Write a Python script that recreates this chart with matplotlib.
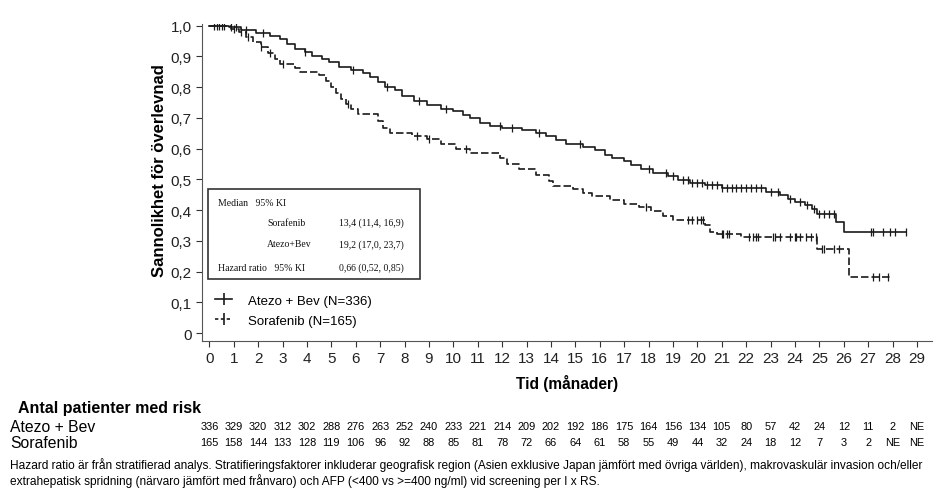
import numpy as np
import matplotlib.pyplot as plt
from matplotlib.lines import Line2D
from matplotlib.patches import Rectangle
import matplotlib.transforms as mtransforms

plt.rcParams['font.family'] = ['Liberation Sans', 'DejaVu Sans']

# Kaplan-Meier steps (time in months, survival after the drop)
atezo_t = [0, 0.8, 1.3, 1.9, 2.5, 2.9, 3.2, 3.5, 3.9, 4.2, 4.6, 4.9, 5.3, 5.8, 6.3,
           6.6, 6.9, 7.2, 7.6, 7.9, 8.4, 8.9, 9.5, 10.0, 10.4, 10.7, 11.1, 11.5, 12.0,
           12.8, 13.4, 13.8, 14.2, 14.6, 15.3, 15.8, 16.2, 16.5, 17.0, 17.3, 17.7,
           18.2, 18.8, 19.2, 19.7, 20.3, 21.0, 22.8, 23.4, 23.7, 24.0, 24.4, 24.7,
           24.9, 25.7, 26.0, 28.55]
atezo_s = [1.0, 0.995, 0.985, 0.975, 0.965, 0.955, 0.94, 0.925, 0.915, 0.90, 0.89,
           0.88, 0.866, 0.855, 0.845, 0.832, 0.815, 0.80, 0.79, 0.772, 0.755, 0.742,
           0.73, 0.722, 0.71, 0.698, 0.683, 0.675, 0.668, 0.661, 0.652, 0.64, 0.628,
           0.614, 0.606, 0.595, 0.58, 0.568, 0.558, 0.545, 0.532, 0.522, 0.511,
           0.498, 0.488, 0.48, 0.472, 0.46, 0.448, 0.436, 0.427, 0.417, 0.404,
           0.388, 0.36, 0.329, 0.329]
atezo_cens = [0.2, 0.4, 0.6, 0.9, 1.1, 1.5, 2.2, 3.9, 5.9, 7.3, 8.6, 9.7, 11.9, 12.4,
              13.5, 15.2, 18.0, 18.7, 19.0, 19.4, 19.6, 19.8, 20.0, 20.2, 20.4, 20.6,
              20.8, 21.0, 21.2, 21.4, 21.6, 21.8, 22.0, 22.2, 22.4, 22.6, 23.0, 23.3,
              23.8, 24.2, 24.5, 24.8, 25.0, 25.2, 25.4, 25.6, 27.1, 27.2, 27.6, 27.9,
              28.1, 28.55]

sora_t = [0, 0.9, 1.2, 1.5, 1.8, 2.1, 2.4, 2.7, 2.9, 3.5, 3.7, 4.5, 4.8, 5.0, 5.2,
          5.4, 5.6, 5.8, 6.1, 6.9, 7.1, 7.4, 8.3, 8.9, 9.5, 10.1, 10.7, 11.9, 12.2,
          12.7, 13.4, 13.9, 14.1, 14.9, 15.3, 15.7, 16.4, 17.0, 17.6, 18.1, 18.6,
          19.0, 20.3, 20.5, 20.8, 21.8, 24.9, 26.2, 27.9]
sora_s = [1.0, 0.99, 0.978, 0.963, 0.948, 0.93, 0.912, 0.89, 0.876, 0.862, 0.848,
          0.838, 0.82, 0.80, 0.78, 0.76, 0.745, 0.728, 0.712, 0.69, 0.668, 0.65,
          0.642, 0.63, 0.616, 0.60, 0.585, 0.568, 0.55, 0.532, 0.515, 0.495, 0.478,
          0.468, 0.456, 0.446, 0.434, 0.42, 0.41, 0.397, 0.38, 0.368, 0.35, 0.33,
          0.322, 0.313, 0.274, 0.182, 0.182]
sora_cens = [0.3, 0.5, 1.0, 1.3, 1.6, 2.1, 2.5, 3.0, 5.7, 8.5, 9.0, 10.5, 17.9, 19.6,
             19.8, 20.0, 20.15, 20.25, 21.0, 21.05, 21.2, 21.3, 22.1, 22.3, 22.4,
             22.5, 23.1, 23.2, 23.4, 23.8, 24.0, 24.05, 24.2, 24.45, 24.65, 24.85,
             25.1, 25.2, 25.6, 25.8, 27.2, 27.45, 27.8]

months = list(range(0, 30))
atezo_risk = ['336', '329', '320', '312', '302', '288', '276', '263', '252', '240',
              '233', '221', '214', '209', '202', '192', '186', '175', '164', '156',
              '134', '105', '80', '57', '42', '24', '12', '11', '2', 'NE']
sora_risk = ['165', '158', '144', '133', '128', '119', '106', '96', '92', '88', '85',
             '81', '78', '72', '66', '64', '61', '58', '55', '49', '44', '32', '24',
             '18', '12', '7', '3', '2', 'NE', 'NE']

col = '#1a1a1a'
dash = (0, (4.5, 1.8))

fig = plt.figure(figsize=(9.45, 5.02), dpi=100)
ax = fig.add_axes([0.2138, 0.3187, 0.772, 0.632])


def surv_at(t, s, c):
    idx = np.searchsorted(t, c, side='right') - 1
    return np.array(s)[idx]


ax.step(atezo_t, atezo_s, where='post', color=col, lw=1.2)
ax.plot(atezo_cens, surv_at(atezo_t, atezo_s, atezo_cens), ls='none', marker='|',
        ms=5.5, mew=0.9, color=col)
ax.step(sora_t, sora_s, where='post', color=col, lw=1.2, ls=dash)
ax.plot(sora_cens, surv_at(sora_t, sora_s, sora_cens), ls='none', marker='|',
        ms=5.5, mew=0.9, color=col)

ax.set_xlim(-0.3, 29.6)
ax.set_ylim(-0.026, 1.006)
ax.set_xticks(months)
ax.set_yticks(np.arange(0, 1.01, 0.1))
ax.set_yticklabels(['0'] + [f'{v:.1f}'.replace('.', ',') for v in np.arange(0.1, 1.01, 0.1)])
ax.tick_params(labelsize=11, colors='#333333', length=4, labelcolor='#222222')
for side in ['top', 'right']:
    ax.spines[side].set_visible(False)
for side in ['left', 'bottom']:
    ax.spines[side].set_color('#555555')
ax.set_xlabel('Tid (månader)', fontsize=11.2, fontweight='bold', labelpad=6)
ax.set_ylabel('Sannolikhet för överlevnad', fontsize=12, fontweight='bold')
ax.yaxis.set_label_coords(-0.048, 0.54)

# stats box
ax.add_patch(Rectangle((0.008, 0.196), 0.291, 0.283, transform=ax.transAxes,
                       fill=False, ec='#333333', lw=1.2))
sf = dict(transform=ax.transAxes, fontsize=7, family='Liberation Serif', va='center',
          color='#111111')
ax.text(0.022, 0.438, 'Median   95% KI', **sf)
ax.text(0.089, 0.375, 'Sorafenib', **sf)
ax.text(0.188, 0.375, '13,4 (11,4, 16,9)', **sf)
ax.text(0.089, 0.306, 'Atezo+Bev', **sf)
ax.text(0.188, 0.306, '19,2 (17,0, 23,7)', **sf)
ax.text(0.022, 0.233, 'Hazard ratio   95% KI', **sf)
ax.text(0.188, 0.233, '0,66 (0,52, 0,85)', **sf)

handles = [Line2D([], [], color=col, lw=1.2, marker='|', ms=9, mew=1.2),
           Line2D([], [], color=col, lw=1.2, ls=(0, (2, 1.5)), marker='|', ms=9, mew=1.2)]
ax.legend(handles, ['Atezo + Bev (N=336)', 'Sorafenib (N=165)'], loc='upper left',
          bbox_to_anchor=(0.018, 0.147), frameon=False, fontsize=9.5, handlelength=1.3,
          handletextpad=1.2, borderpad=0, labelspacing=0.6, numpoints=1,
          borderaxespad=0)

# numbers at risk
tr = mtransforms.blended_transform_factory(ax.transData, fig.transFigure)
fig.text(0.019, 0.187, 'Antal patienter med risk', fontsize=11.5, fontweight='bold',
         va='center')
fig.text(0.0106, 0.149, 'Atezo + Bev', fontsize=11.3, va='center')
fig.text(0.0106, 0.1175, 'Sorafenib', fontsize=11.3, va='center')
for m, a, s in zip(months, atezo_risk, sora_risk):
    ax.text(m, 0.149, a, transform=tr, fontsize=7.9, ha='center', va='center')
    ax.text(m, 0.1175, s, transform=tr, fontsize=7.9, ha='center', va='center')

fig.text(0.0106, 0.074,
         'Hazard ratio är från stratifierad analys. Stratifieringsfaktorer inkluderar '
         'geografisk region (Asien exklusive Japan jämfört med övriga världen), '
         'makrovaskulär invasion och/eller', fontsize=8.55, va='center')
fig.text(0.0106, 0.042,
         'extrahepatisk spridning (närvaro jämfört med frånvaro) och AFP (<400 vs '
         '>=400 ng/ml) vid screening per I x RS.', fontsize=8.55, va='center')

fig.savefig('out.png', dpi=100)
